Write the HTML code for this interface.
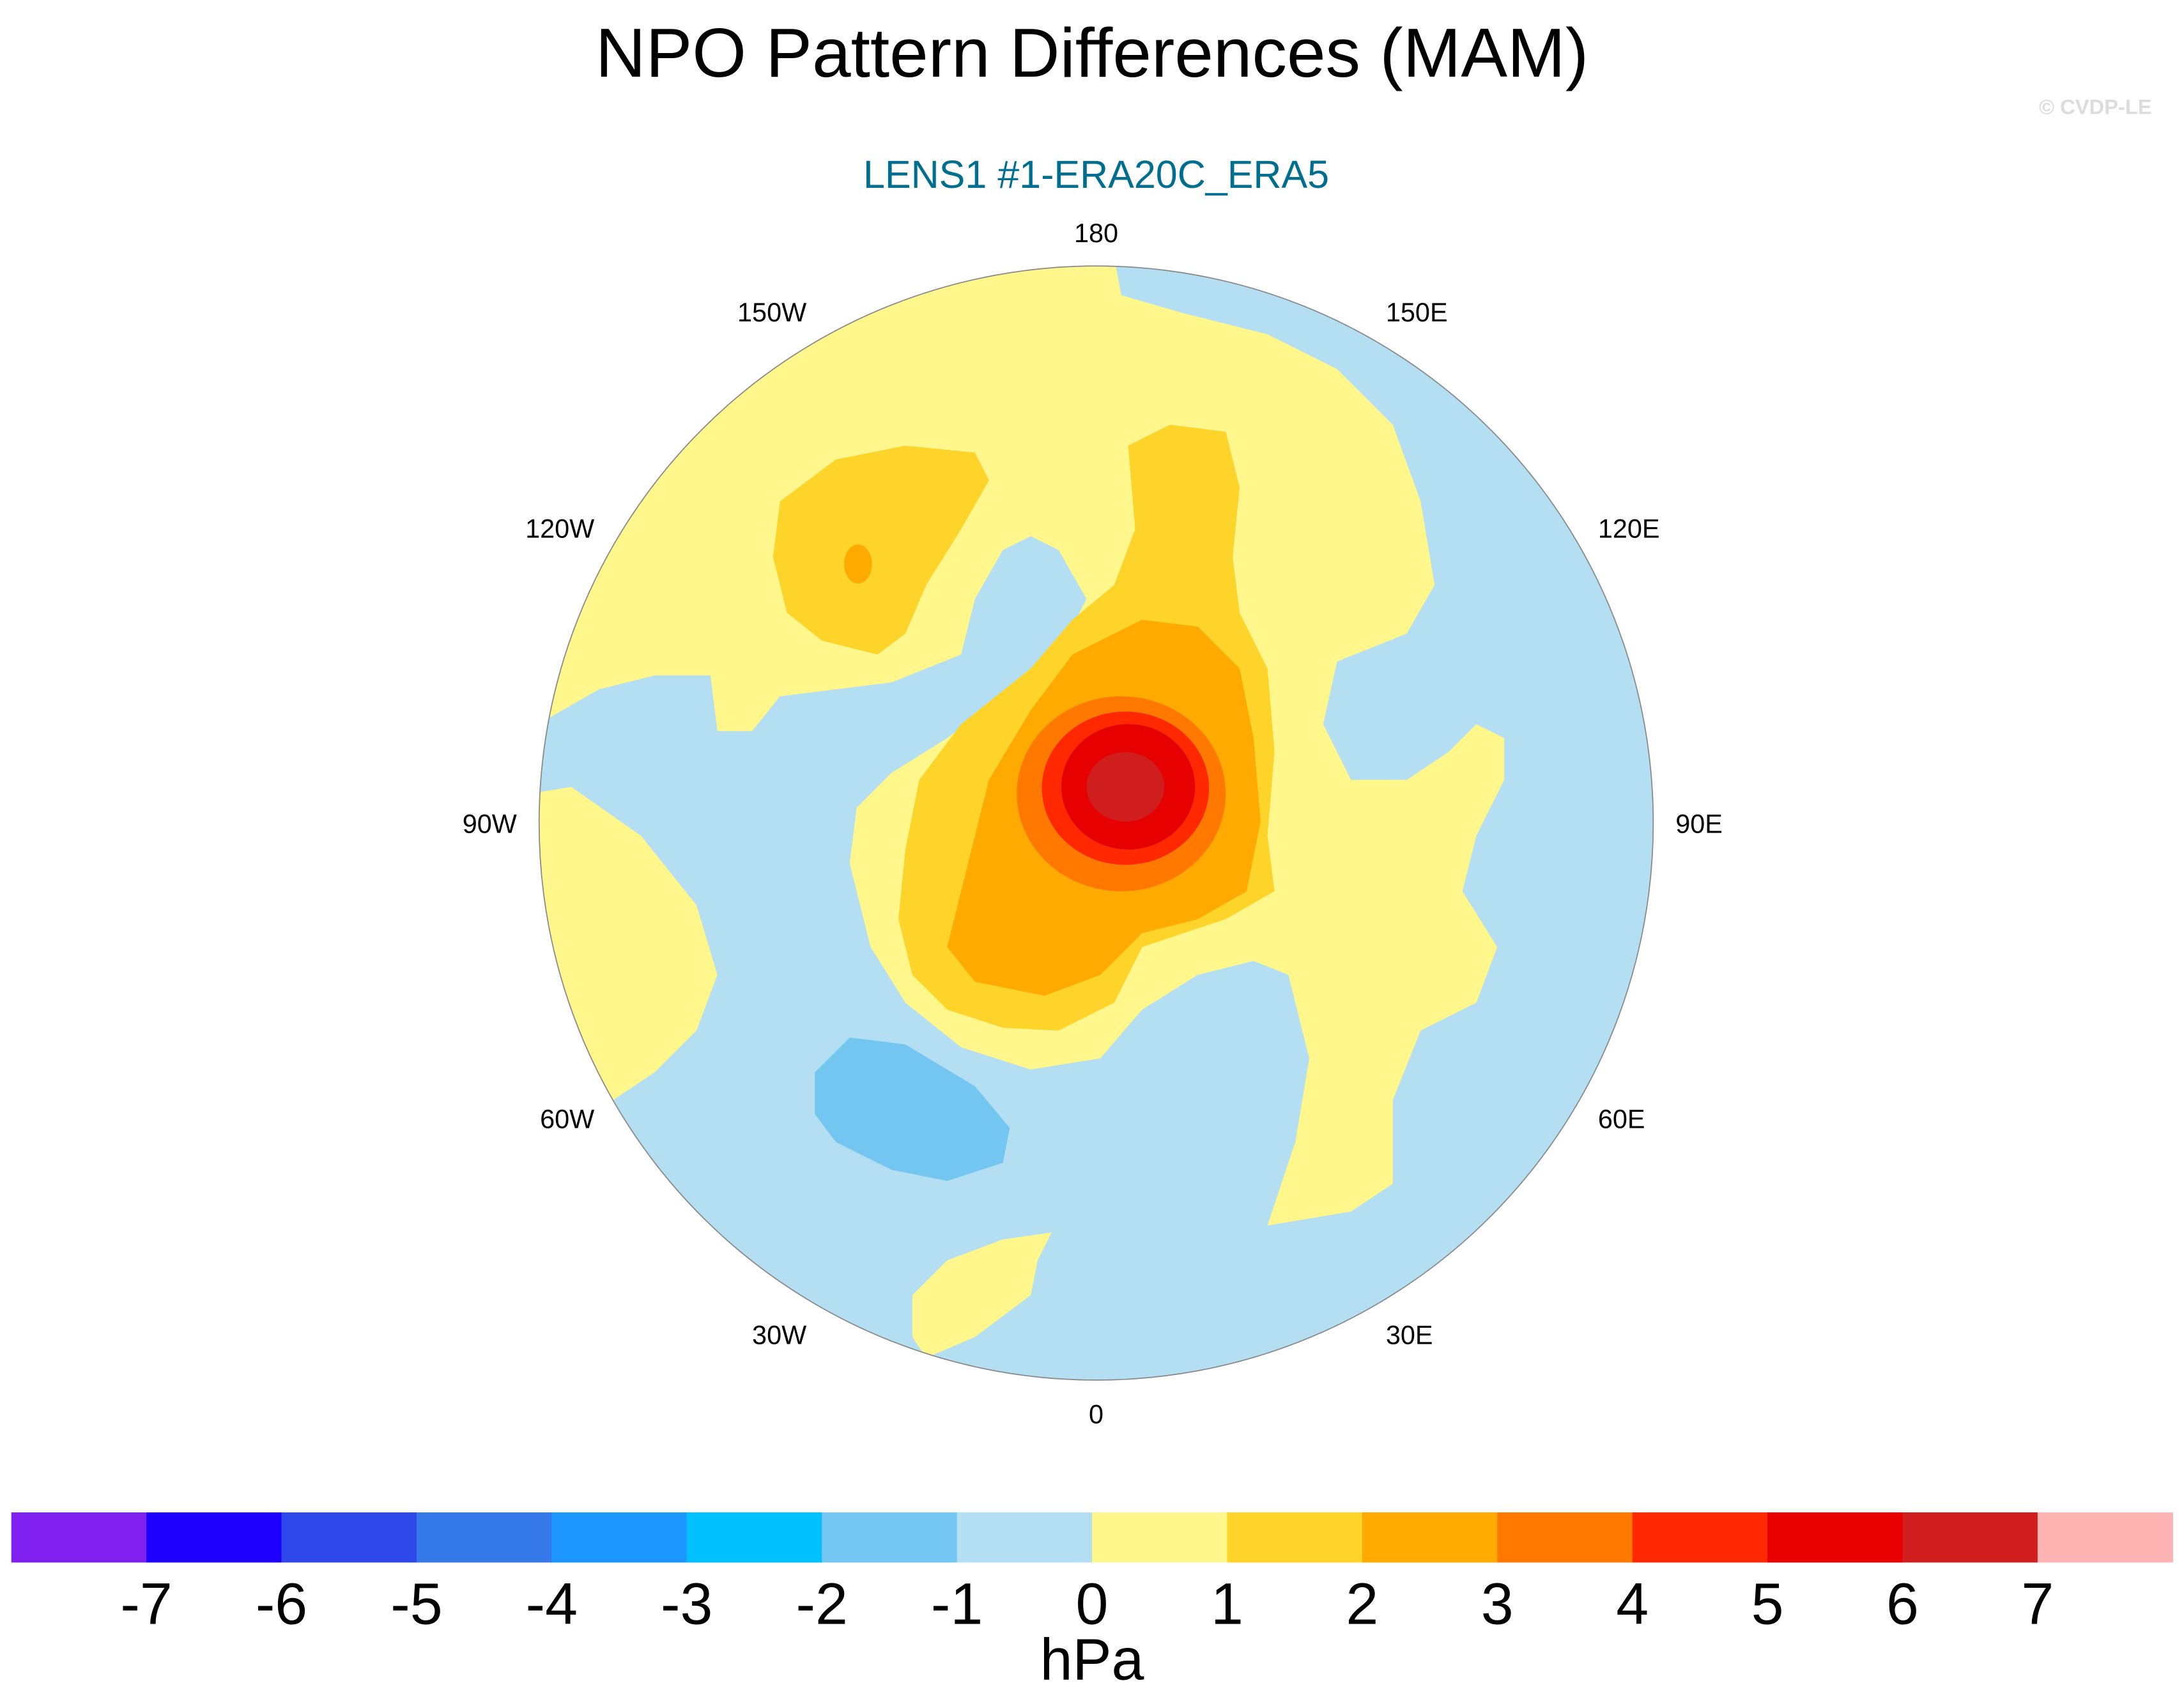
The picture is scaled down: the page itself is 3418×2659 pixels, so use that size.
<!DOCTYPE html>
<html><head><meta charset="utf-8"><style>
html,body{margin:0;padding:0;background:#fff;}
svg{display:block;}
text{font-family:"Liberation Sans",sans-serif;}
</style></head><body>
<svg id="chart" width="3418" height="2659" viewBox="0 0 1568 1220" xmlns="http://www.w3.org/2000/svg">
<text x="784" y="55" font-size="50" text-anchor="middle" fill="#000">NPO Pattern Differences (MAM)</text>
<text x="1545" y="82" font-size="15" font-weight="bold" text-anchor="end" fill="#dcdcdc">© CVDP-LE</text>
<text x="787" y="135" font-size="28" text-anchor="middle" fill="#006e8f">LENS1 #1-ERA20C_ERA5</text>
<defs><clipPath id="globe"><circle cx="787" cy="591" r="400"/></clipPath></defs>
<g clip-path="url(#globe)" stroke-linejoin="round">
<circle cx="787" cy="591" r="400" fill="#b4def2"/>
<path fill="#fff68c" d="M800,185 L805,212 850,225 910,240 960,265 1000,305 1020,360 1030,420 1010,455 960,475 950,520 970,560 1010,560 1040,540 1060,520 1080,530 1080,560 1060,600 1050,640 1075,680 1060,720 1020,740 1000,790 1000,850 970,870 910,880 930,820 940,760 925,700 900,690 860,700 820,725 790,760 740,768 690,752 650,720 625,680 610,620 615,580 640,555 680,530 720,500 760,470 780,430 760,395 740,385 720,395 700,430 690,470 640,490 560,500 540,525 515,525 510,485 470,485 430,495 395,515 L380,515 L380,180 Z"/>
<path fill="#fff68c" d="M380,570 L410,565 460,600 500,650 515,700 500,740 470,770 440,790 380,800 Z"/>
<path fill="#fff68c" d="M755,885 L720,890 680,905 655,930 655,960 665,975 700,960 720,945 740,930 745,905 Z"/>
<path fill="#ffd42a" d="M560,360 L600,330 650,320 700,325 710,345 690,380 665,420 650,455 630,470 590,460 565,440 555,400 Z"/>
<ellipse cx="616" cy="405" rx="10" ry="14" fill="#ffaa00"/>
<path fill="#ffd42a" d="M810,320 L840,305 880,310 890,350 885,400 890,440 910,480 915,540 910,600 915,640 880,660 820,680 800,720 760,740 720,738 680,725 655,700 645,660 650,610 660,560 690,520 740,480 770,445 800,420 815,380 Z"/>
<path fill="#ffaa00" d="M770,470 L820,445 860,450 890,480 900,530 905,590 895,640 860,660 820,670 790,700 750,715 700,705 680,680 690,640 700,600 710,560 740,510 Z"/>
<ellipse cx="805" cy="570" rx="75" ry="70" fill="#ff7800"/>
<ellipse cx="808" cy="566" rx="60" ry="55" fill="#ff2800"/>
<ellipse cx="810" cy="565" rx="48" ry="45" fill="#e60000"/>
<ellipse cx="808" cy="565" rx="28" ry="25" fill="#d01e1e"/>
<path fill="#72c6f0" d="M585,770 L610,745 650,750 700,780 725,810 720,835 680,848 640,840 600,820 585,800 Z"/>
</g>
<circle cx="787" cy="591" r="400" fill="none" stroke="#888" stroke-width="0.8"/>
<g id="lonlabels" font-size="19" fill="#000"></g>
<g id="cbar"></g>
<text x="784" y="1206" font-size="42" text-anchor="middle" fill="#000">hPa</text>
</svg>
<script>
const lonLabels = ["180","150W","150E","120W","120E","90W","90E","60W","60E","30W","30E","0"];
const lonAngles = [180,-150,150,-120,120,-90,90,-60,60,-30,30,0];
const levels = [-7,-6,-5,-4,-3,-2,-1,0,1,2,3,4,5,6,7];
const colors = ["#8020f0","#1e00ff","#2e48ea","#3478ea","#1e96ff","#00c0ff","#74c6f2","#b4def2","#fff68c","#ffd42a","#ffaa00","#ff7800","#ff2800","#e80000","#d01e1e","#ffb4b4"];
const NS="http://www.w3.org/2000/svg";
const cx=787, cy=591, rl=416;
const lg=document.getElementById('lonlabels');
lonLabels.forEach((t,i)=>{
  const a=lonAngles[i]*Math.PI/180;
  const s=Math.sin(a);
  const el=document.createElementNS(NS,'text');
  el.setAttribute('x',(cx+s*rl).toFixed(1));
  el.setAttribute('y',(cy+Math.cos(a)*(rl+8)+7).toFixed(1));
  el.setAttribute('text-anchor', Math.abs(s)<0.01 ? 'middle' : (s<0 ? 'end' : 'start'));
  el.textContent=t;
  
  
  lg.appendChild(el);
});
const cb=document.getElementById('cbar');
const x0=8, bw=(1560-8)/colors.length, y0=1086, bh=36;
colors.forEach((c,i)=>{
  const r=document.createElementNS(NS,'rect');
  r.setAttribute('x',x0+i*bw); r.setAttribute('y',y0);
  r.setAttribute('width',bw+0.3); r.setAttribute('height',bh);
  r.setAttribute('fill',c);
  
  
  cb.appendChild(r);
});
levels.forEach((v,i)=>{
  const t=document.createElementNS(NS,'text');
  t.setAttribute('x',x0+(i+1)*bw); t.setAttribute('y',1166);
  t.setAttribute('font-size','42'); t.setAttribute('text-anchor','middle');
  t.textContent=String(v);
  
  
  cb.appendChild(t);
});
</script>
</body></html>
